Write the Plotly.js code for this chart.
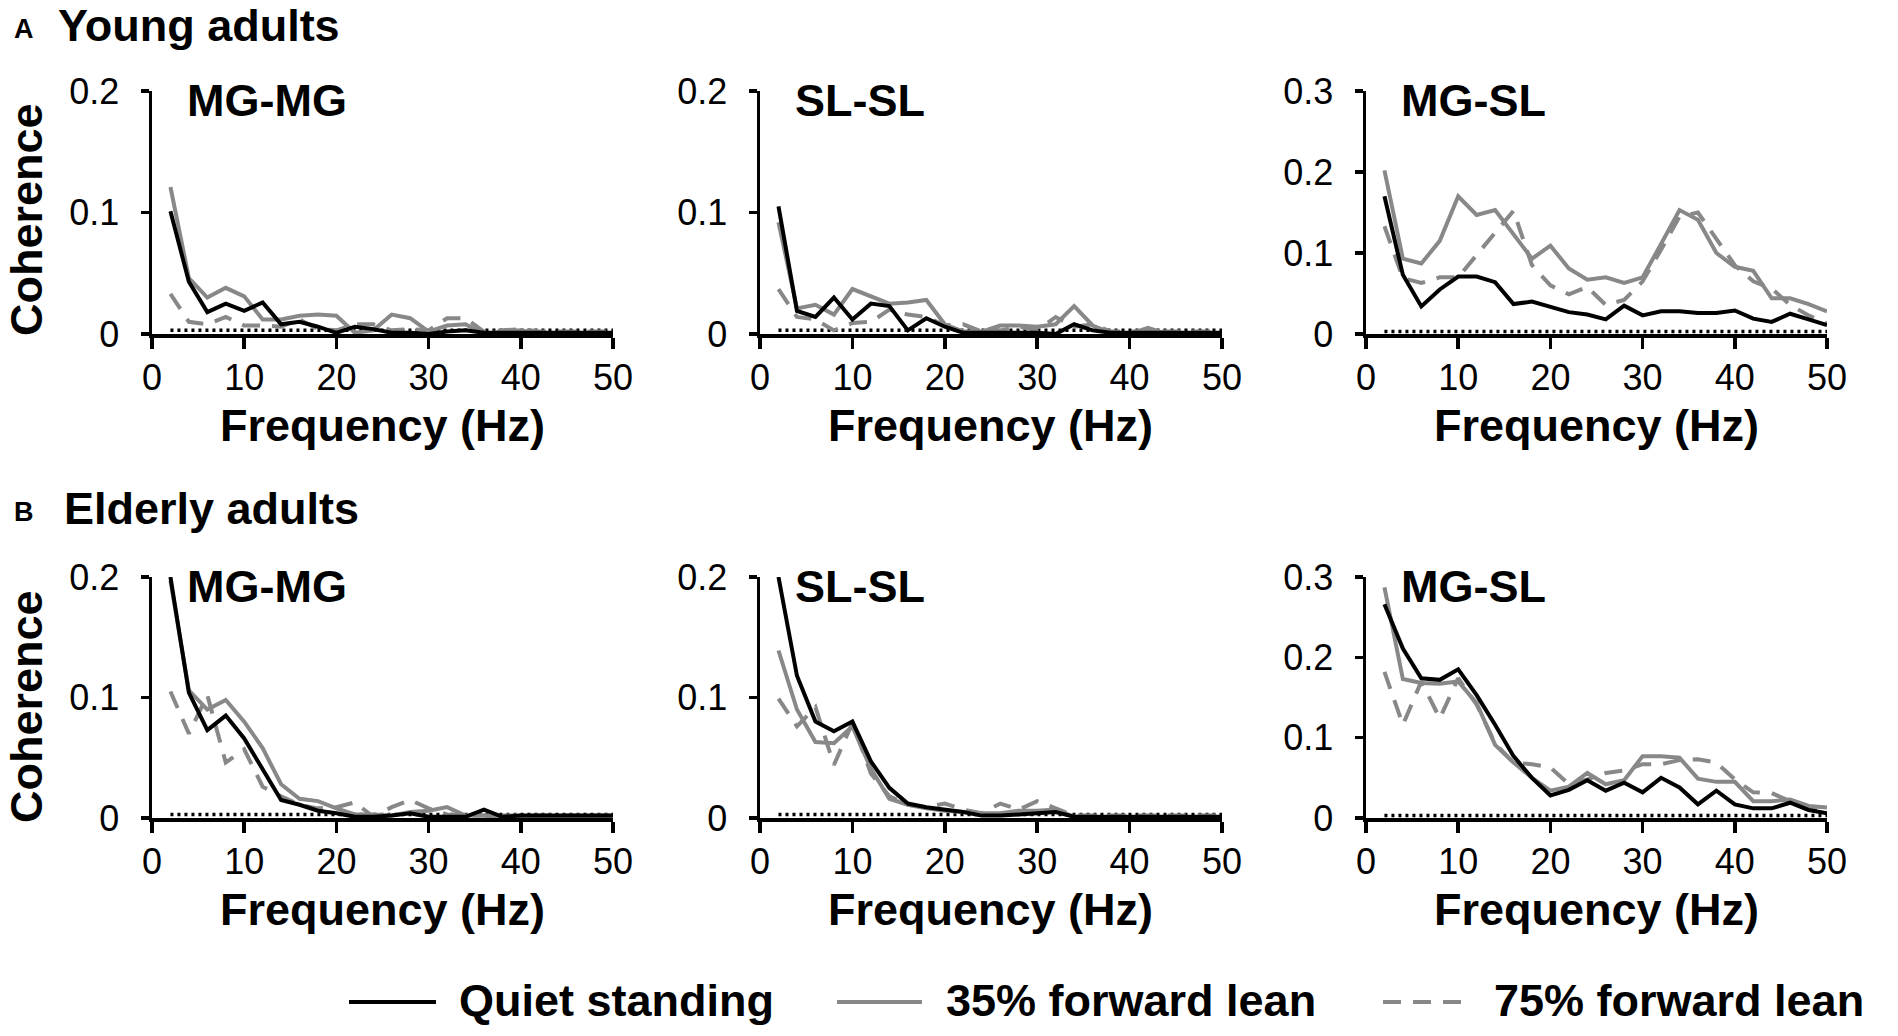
<!DOCTYPE html>
<html>
<head>
<meta charset="utf-8">
<script src="https://cdn.plot.ly/plotly-3.0.1.min.js"></script>
<style>body{margin:0;background:#fff}</style>
</head>
<body>
<div id="graph" style="width:1898px;height:1036px"></div>
<script>
// frequency bins (Hz)
const freq = [2,4,6,8,10,12,14,16,18,20,22,24,26,28,30,32,34,36,38,40,42,44,46,48,50];
// significance level (dotted line)
const sigLevel = 0.003;

// A - young adults
const youngMGMG_quiet = [0.101,0.043,0.018,0.025,0.019,0.026,0.008,0.010,0.006,0.001,0.006,0.004,0.001,0.001,0.000,0.002,0.003,0.001,0.001,0.001,0.001,0.001,0.001,0.001,0.001];
const youngMGMG_lean35 = [0.121,0.046,0.030,0.038,0.031,0.012,0.012,0.015,0.016,0.015,0.001,0.003,0.016,0.013,0.002,0.007,0.008,0.000,0.002,0.003,0.000,0.000,0.001,0.000,0.001];
const youngMGMG_lean75 = [0.033,0.010,0.008,0.014,0.007,0.007,0.006,0.012,0.004,0.003,0.008,0.008,0.003,0.004,0.003,0.013,0.013,0.002,0.003,0.004,0.002,0.002,0.002,0.002,0.002];

const youngSLSL_quiet = [0.105,0.019,0.014,0.030,0.012,0.025,0.023,0.003,0.013,0.006,0.001,0.001,0.001,0.001,0.001,0.000,0.008,0.003,0.001,0.001,0.001,0.001,0.001,0.001,0.001];
const youngSLSL_lean35 = [0.092,0.021,0.024,0.016,0.037,0.031,0.025,0.026,0.028,0.008,0.002,0.002,0.007,0.007,0.006,0.008,0.023,0.007,0.001,0.000,0.005,0.000,0.000,0.000,0.000];
const youngSLSL_lean75 = [0.037,0.014,0.012,0.003,0.009,0.010,0.020,0.016,0.014,0.007,0.008,0.002,0.003,0.006,0.003,0.014,0.006,0.008,0.002,0.002,0.002,0.002,0.002,0.002,0.002];

const youngMGSL_quiet = [0.170,0.073,0.034,0.055,0.071,0.071,0.064,0.037,0.040,0.034,0.027,0.024,0.018,0.035,0.023,0.028,0.028,0.026,0.026,0.029,0.019,0.015,0.025,0.018,0.011];
const youngMGSL_lean35 = [0.202,0.093,0.087,0.115,0.170,0.147,0.153,0.122,0.093,0.109,0.081,0.067,0.070,0.063,0.070,0.111,0.153,0.141,0.100,0.083,0.078,0.044,0.044,0.037,0.028];
const youngMGSL_lean75 = [0.133,0.069,0.063,0.070,0.070,0.098,0.125,0.152,0.085,0.060,0.049,0.058,0.036,0.042,0.065,0.104,0.145,0.150,0.118,0.085,0.065,0.056,0.036,0.023,0.013];

// B - elderly adults
const elderMGMG_quiet = [0.200,0.104,0.073,0.085,0.066,0.040,0.015,0.011,0.006,0.004,0.001,0.001,0.002,0.004,0.001,0.001,0.001,0.007,0.001,0.002,0.002,0.002,0.002,0.002,0.002];
const elderMGMG_lean35 = [0.197,0.106,0.090,0.098,0.080,0.058,0.028,0.016,0.014,0.008,0.003,0.003,0.002,0.005,0.006,0.009,0.002,0.002,0.000,0.000,0.000,0.000,0.000,0.000,0.000];
const elderMGMG_lean75 = [0.105,0.070,0.102,0.046,0.057,0.026,0.018,0.011,0.008,0.009,0.013,0.001,0.009,0.015,0.008,0.003,0.002,0.002,0.002,0.002,0.002,0.002,0.002,0.002,0.002];

const elderSLSL_quiet = [0.200,0.118,0.080,0.072,0.080,0.047,0.025,0.012,0.009,0.007,0.005,0.002,0.002,0.003,0.004,0.005,0.001,0.001,0.001,0.001,0.001,0.001,0.001,0.001,0.001];
const elderSLSL_lean35 = [0.139,0.090,0.063,0.062,0.076,0.041,0.016,0.011,0.008,0.006,0.005,0.004,0.004,0.006,0.006,0.007,0.001,0.000,0.000,0.000,0.000,0.000,0.000,0.000,0.000];
const elderSLSL_lean75 = [0.099,0.076,0.092,0.044,0.079,0.037,0.018,0.011,0.009,0.012,0.007,0.004,0.012,0.007,0.014,0.008,0.002,0.002,0.002,0.002,0.002,0.002,0.002,0.002,0.002];

const elderMGSL_quiet = [0.266,0.211,0.174,0.172,0.185,0.153,0.116,0.077,0.050,0.028,0.035,0.047,0.034,0.044,0.032,0.050,0.038,0.017,0.034,0.017,0.012,0.012,0.019,0.010,0.006];
const elderMGSL_lean35 = [0.287,0.173,0.168,0.167,0.170,0.143,0.091,0.069,0.050,0.034,0.039,0.056,0.042,0.047,0.077,0.077,0.075,0.049,0.045,0.045,0.021,0.021,0.023,0.015,0.013];
const elderMGSL_lean75 = [0.182,0.116,0.170,0.124,0.174,0.141,0.093,0.069,0.067,0.063,0.042,0.048,0.056,0.059,0.067,0.067,0.072,0.073,0.069,0.048,0.032,0.031,0.021,0.013,0.011];

const panelNames = ['MG-MG','SL-SL','MG-SL','MG-MG','SL-SL','MG-SL'];
const yMax = [0.2,0.2,0.3,0.2,0.2,0.3];
const xTicks = [0,10,20,30,40,50];
const conditions = ['Quiet standing','35% forward lean','75% forward lean'];

const panels = [
    [youngMGMG_quiet, youngMGMG_lean35, youngMGMG_lean75],
    [youngSLSL_quiet, youngSLSL_lean35, youngSLSL_lean75],
    [youngMGSL_quiet, youngMGSL_lean35, youngMGSL_lean75],
    [elderMGMG_quiet, elderMGMG_lean35, elderMGMG_lean75],
    [elderSLSL_quiet, elderSLSL_lean35, elderSLSL_lean75],
    [elderMGSL_quiet, elderMGSL_lean35, elderMGSL_lean75]
];

const W = 1898, H = 1036;
const colX = [[152,613],[760,1222],[1366,1827]];   // px, left/right of each column
const rowY = [[91,334],[577,818]];                   // px, top/bottom of each row
const px = v => v / W;
const py = v => (H - v) / H;

const lineStyles = [
    {color: '#000000', width: 4, dash: 'solid'},
    {color: '#888888', width: 4, dash: 'solid'},
    {color: '#888888', width: 4, dash: '18px,12px'}
];

const FONT = '"Liberation Sans", Arial, sans-serif';
const tickFont = {family: FONT, size: 36, color: '#000'};

let data = [];
let layout = {
    width: W,
    height: H,
    margin: {l: 0, r: 0, t: 0, b: 0},
    paper_bgcolor: '#ffffff',
    plot_bgcolor: '#ffffff',
    showlegend: false,
    font: {family: FONT, color: '#000000'},
    annotations: [],
    shapes: []
};

panels.forEach((series, i) => {
    const row = Math.floor(i / 3), col = i % 3;
    const n = i === 0 ? '' : String(i + 1);

    // significance level
    data.push({
        x: [freq[0], freq[freq.length - 1]],
        y: [sigLevel, sigLevel],
        xaxis: 'x' + n, yaxis: 'y' + n,
        mode: 'lines',
        line: {color: '#000000', width: 3.5, dash: '3px,4px'},
        hoverinfo: 'skip'
    });

    // dashed first so the solid lines sit on top
    [2, 1, 0].forEach(k => {
        data.push({
            x: freq,
            y: series[k],
            name: conditions[k],
            xaxis: 'x' + n, yaxis: 'y' + n,
            mode: 'lines',
            line: lineStyles[k]
        });
    });

    layout['xaxis' + n] = {
        domain: [px(colX[col][0]), px(colX[col][1])],
        anchor: 'y' + n,
        range: [0, 50],
        tickvals: xTicks,
        ticks: 'outside', ticklen: 11, tickwidth: 3.5, tickcolor: '#000',
        showline: true, linewidth: 3.5, linecolor: '#000',
        showgrid: false, zeroline: false,
        ticklabelstandoff: -2,
        tickfont: tickFont
    };
    layout['yaxis' + n] = {
        domain: [py(rowY[row][1]), py(rowY[row][0])],
        anchor: 'x' + n,
        range: [0, yMax[i]],
        dtick: 0.1,
        ticks: 'outside', ticklen: 8, tickwidth: 3.5, tickcolor: '#000',
        showline: true, linewidth: 3.5, linecolor: '#000',
        showgrid: false, zeroline: false,
        ticklabelstandoff: 14,
        tickfont: tickFont
    };

    // panel label
    layout.annotations.push({
        xref: 'paper', yref: 'paper',
        x: px(colX[col][0] + 33), y: py(rowY[row][0] + 9),
        xanchor: 'left', yanchor: 'middle',
        text: '<b>' + panelNames[i] + '</b>',
        showarrow: false,
        font: {family: FONT, size: 45, color: '#000'}
    });
    // x title
    layout.annotations.push({
        xref: 'paper', yref: 'paper',
        x: px((colX[col][0] + colX[col][1]) / 2), y: py(rowY[row][1] + 91),
        xanchor: 'center', yanchor: 'middle',
        text: '<b>Frequency (Hz)</b>',
        showarrow: false,
        font: {family: FONT, size: 45, color: '#000'}
    });
});

// y titles
[220, 707].forEach(yc => {
    layout.annotations.push({
        xref: 'paper', yref: 'paper',
        x: px(26), y: py(yc),
        xanchor: 'center', yanchor: 'middle',
        text: '<b>Coherence</b>', textangle: -90,
        showarrow: false,
        font: {family: FONT, size: 45, color: '#000'}
    });
});

// section headings
const headings = [['A', 'Young adults', 29, 25], ['B', 'Elderly adults', 512, 509]];
headings.forEach(h => {
    layout.annotations.push({
        xref: 'paper', yref: 'paper', x: px(24), y: py(h[2]),
        xanchor: 'center', yanchor: 'middle', showarrow: false,
        text: '<b>' + h[0] + '</b>', font: {family: FONT, size: 27, color: '#000'}
    });
    layout.annotations.push({
        xref: 'paper', yref: 'paper', x: px(h[0] === 'A' ? 56 : 62), y: py(h[3]),
        xanchor: 'left', yanchor: 'middle', showarrow: false,
        text: '<b>' + h[1] + '</b>', font: {family: FONT, size: 45, color: '#000'}
    });
});

// legend row at the bottom
const legendLine = [[349, 436], [837, 922], [1383, 1470]];
const legendText = [457, 944, 1492];
const legendY = 1002;
conditions.forEach((c, k) => {
    layout.shapes.push({
        type: 'line', xref: 'paper', yref: 'paper',
        x0: px(legendLine[k][0]), x1: px(legendLine[k][1]),
        y0: py(legendY), y1: py(legendY),
        line: lineStyles[k]
    });
    layout.annotations.push({
        xref: 'paper', yref: 'paper', x: px(legendText[k]), y: py(legendY - 2),
        xanchor: 'left', yanchor: 'middle', showarrow: false,
        text: '<b>' + c + '</b>', font: {family: FONT, size: 45, color: '#000'}
    });
});

Plotly.newPlot('graph', data, layout, {staticPlot: true});
</script>
</body>
</html>
